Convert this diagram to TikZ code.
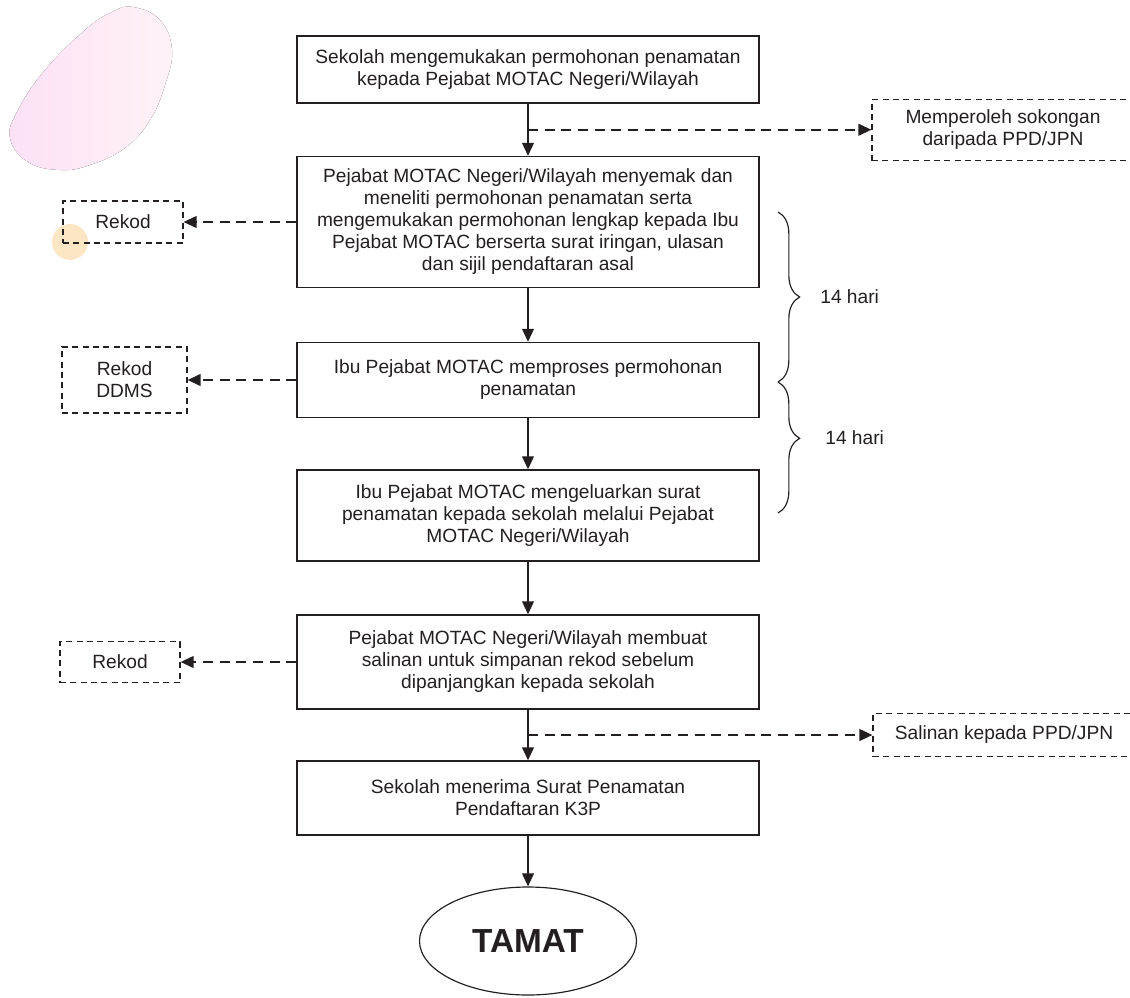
\documentclass[tikz,border=0pt]{standalone}
\usepackage{fontspec}
\setmainfont{Liberation Sans}
\usetikzlibrary{arrows.meta, calc, decorations.pathreplacing, shapes.geometric}
\definecolor{ink}{HTML}{231F20}
\definecolor{blushL}{RGB}{252,225,245}
\definecolor{blushR}{RGB}{255,242,247}
\definecolor{peach}{RGB}{253,230,195}

\begin{document}
\begin{tikzpicture}[x=0.6pt, y=-0.6pt, color=ink,
          font=\fontsize{11.5}{13.2}\selectfont,
          box/.style = {draw, line width=0.8pt, align=center, minimum width=277.2pt},
          note/.style = {draw, line width=0.7pt, dash pattern=on 3.6pt off 2.6pt, align=center},
          flow/.style = {line width=1.2pt, -{Triangle[length=7.8pt, width=7pt]}},
          side/.style = {flow, dash pattern=on 6pt off 4pt},
          brc/.style = {decorate, line width=0.7pt, decoration={brace, amplitude=13pt}} ]

\useasboundingbox (0,0) rectangle (1130,997);
\clip (0,0) rectangle (1130,997);

\fill [left color=blushL, right color=blushR] plot [smooth cycle, tension=0.7] coordinates
  {(133,7) (160,20) (172,50) (165,85) (150,120) (125,148) (90,165) (60,170)
   (28,162) (10,138) (18,110) (45,70) (85,30) (112,12)};
\fill [peach] (70,242) circle [radius=18];

\node (b1) [box, minimum height=40.2pt] at (528,69.5)
  {Sekolah mengemukakan permohonan penamatan\\kepada Pejabat MOTAC Negeri/Wilayah};
\node (b2) [box, minimum height=78.6pt] at (528,222)
  {Pejabat MOTAC Negeri/Wilayah menyemak dan\\meneliti permohonan penamatan serta\\
   mengemukakan permohonan lengkap kepada Ibu\\Pejabat MOTAC berserta surat iringan, ulasan\\
   dan sijil pendaftaran asal};
\node (b3) [box, minimum height=45pt] at (528,380)
  {Ibu Pejabat MOTAC memproses permohonan\\penamatan};
\node (b4) [box, minimum height=54.6pt] at (528,515.5)
  {Ibu Pejabat MOTAC mengeluarkan surat\\penamatan kepada sekolah melalui Pejabat\\MOTAC Negeri/Wilayah};
\node (b5) [box, minimum height=56.4pt] at (528,662)
  {Pejabat MOTAC Negeri/Wilayah membuat\\salinan untuk simpanan rekod sebelum\\dipanjangkan kepada sekolah};
\node (b6) [box, minimum height=44.4pt] at (528,798)
  {Sekolah menerima Surat Penamatan\\Pendaftaran K3P};
\node (tamat) [draw, ellipse, line width=0.7pt, minimum width=130.2pt, minimum height=64.8pt,
               font=\fontsize{20}{24}\selectfont\bfseries] at (528,941) {TAMAT};

\node (rekA) [note, minimum width=72pt, minimum height=25.2pt] at (123,222) {Rekod};
\node (ddms) [note, minimum width=75pt, minimum height=39.6pt] at (124.5,380) {Rekod\\DDMS};
\node (rekB) [note, minimum width=72pt, minimum height=24.6pt] at (120,662) {Rekod};
\node (ppdA) [note, minimum width=157.2pt, minimum height=36.6pt] at (1003,130)
  {Memperoleh sokongan\\daripada PPD/JPN};
\node (ppdB) [note, minimum width=157.2pt, minimum height=25.8pt] at (1004,735)
  {Salinan kepada PPD/JPN};

\draw [flow] (b1) -- (b2);
\draw [flow] (b2) -- (b3);
\draw [flow] (b3) -- (b4);
\draw [flow] (b4) -- (b5);
\draw [flow] (b5) -- (b6);
\draw [flow] (b6) -- (tamat);

\coordinate (splitA) at ($(b1.south)!0.5!(b2.north)$);
\coordinate (splitB) at ($(b5.south)!0.5!(b6.north)$);
\draw [side] (splitA) -- (splitA -| ppdA.west);
\draw [side] (splitB) -- (splitB -| ppdB.west);
\draw [side] (b2) -- (rekA);
\draw [side] (b3) -- (ddms);
\draw [side] (b5) -- (rekB);

\draw [brc] (778,212) -- (778,382);
\draw [brc, decoration={aspect=0.43}] (778,382) -- (778,513);
\node (hariA) [anchor=west, inner sep=0pt] at (820,297) {14 hari};
\node (hariB) [anchor=west, inner sep=0pt] at (825,438) {14 hari};
\end{tikzpicture}
\end{document}
